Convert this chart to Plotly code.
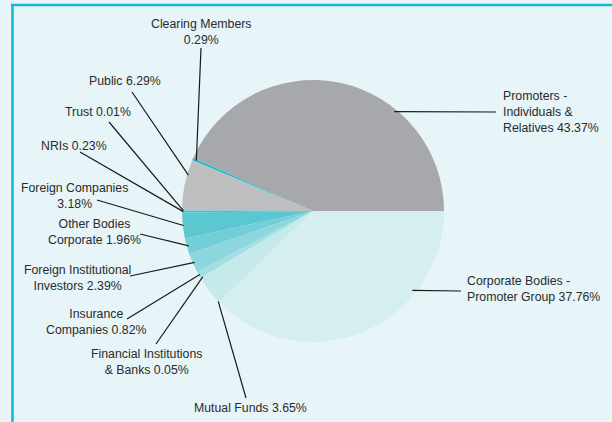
import math
import plotly.graph_objects as go

# ---- data ----
categories = [
    "Promoters - Individuals & Relatives",
    "Clearing Members",
    "Public",
    "Trust",
    "NRIs",
    "Foreign Companies",
    "Other Bodies Corporate",
    "Foreign Institutional Investors",
    "Insurance Companies",
    "Financial Institutions & Banks",
    "Mutual Funds",
    "Corporate Bodies - Promoter Group",
]
shares = [43.37, 0.29, 6.29, 0.01, 0.23, 3.18, 1.96, 2.39, 0.82, 0.05, 3.65, 37.76]
label_texts = [
    "Promoters -<br>Individuals &<br>Relatives 43.37%",
    "Clearing Members<br>0.29%",
    "Public 6.29%",
    "Trust 0.01%",
    "NRIs 0.23%",
    "Foreign Companies<br>3.18%",
    "Other Bodies<br>Corporate 1.96%",
    "Foreign Institutional<br>Investors 2.39%",
    "Insurance<br>Companies 0.82%",
    "Financial Institutions<br>& Banks 0.05%",
    "Mutual Funds 3.65%",
    "Corporate Bodies -<br>Promoter Group 37.76%",
]
colors = ["#a7a8ab", "#1ebccd", "#bdbec0", "#2cc0cf", "#3ec3d0", "#5bc7d1",
          "#72ced7", "#8dd6dd", "#a3dee3", "#b5e3e6", "#c6e9eb", "#d5eeef"]

# ---- layout geometry (pixels) ----
W, H = 612, 422
CX, CY, R = 313, 211, 131
# per label: text position (x, y), anchor, leader outer end (x, y), fraction within slice, radius factor
label_layout = [
    (501, 112, "left", (496, 112), 0.325, 0.98),
    (201, 32, "center", (201, 48), 0.5, 0.97),
    (125, 81, "center", (132, 92), 0.3, 0.99),
    (98, 112, "center", (109, 122), 0.5, 0.99),
    (74, 146, "center", (80, 152), 0.5, 0.99),
    (74, 196, "center", (97, 200), 0.5, 0.995),
    (94, 232, "center", (140, 234), 0.5, 0.985),
    (77, 278, "center", (130, 276), 0.5, 0.985),
    (96, 322, "center", (127, 319), 0.5, 0.99),
    (146, 362, "center", (156, 344), 0.5, 0.98),
    (250, 408, "center", (246, 398), 0.97, 1.0),
    (465, 289, "left", (461, 291), 0.716, 0.97),
]

def px(x):
    return x / W

def py(y):
    return 1 - y / H

total = sum(shares)
# first slice starts at 3 o'clock and runs counterclockwise
rotation = 90 - 360 * shares[0] / total

fig = go.Figure()
fig.add_trace(go.Pie(
    labels=categories,
    values=shares,
    sort=False,
    direction="counterclockwise",
    rotation=rotation,
    marker=dict(colors=colors, line=dict(width=0)),
    textinfo="none",
    hoverinfo="label+percent",
    showlegend=False,
    domain=dict(x=[px(CX - R), px(CX + R)], y=[py(CY + R), py(CY - R)]),
))

shapes = []
annotations = []
cum = 0.0
for val, txt, lay in zip(shares, label_texts, label_layout):
    tx, ty, anchor, (ox, oy), frac, rf = lay
    a0 = cum / total * 360
    a1 = (cum + val) / total * 360
    cum += val
    ang = math.radians(a0 + (a1 - a0) * frac)
    ix = CX + R * rf * math.cos(ang)
    iy = CY - R * rf * math.sin(ang)
    shapes.append(dict(type="line", xref="paper", yref="paper",
                       x0=px(ix), y0=py(iy), x1=px(ox), y1=py(oy),
                       line=dict(color="#1a1a1a", width=1.2)))
    annotations.append(dict(text=txt, xref="paper", yref="paper",
                            x=px(tx), y=py(ty), xanchor=anchor, yanchor="middle",
                            align=anchor if anchor != "center" else "center",
                            showarrow=False,
                            font=dict(family="Liberation Sans, Arial", size=12.3, color="#2b2b2b")))

# frame lines (top and left)
shapes.append(dict(type="line", xref="paper", yref="paper", x0=px(11), y0=py(5), x1=1, y1=py(5),
                   line=dict(color="#12b6d6", width=2.5)))
shapes.append(dict(type="line", xref="paper", yref="paper", x0=px(12.5), y0=py(4), x1=px(12.5), y1=0,
                   line=dict(color="#12b6d6", width=2.5)))

fig.update_layout(
    width=W, height=H,
    margin=dict(l=0, r=0, t=0, b=0),
    paper_bgcolor="#e7f4f8",
    plot_bgcolor="#e7f4f8",
    shapes=shapes,
    annotations=annotations,
)
fig.write_html("out.html", config={"displayModeBar": False},
               post_script="document.body.style.margin='0px';document.body.style.background='#e7f4f8';")
